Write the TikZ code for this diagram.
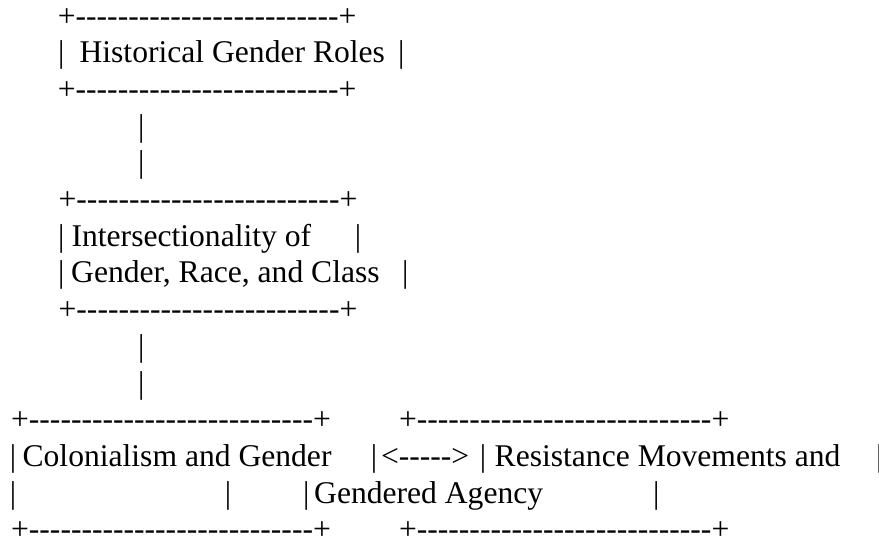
\documentclass[tikz,border=0pt]{standalone}
\usepackage{fontspec}
\newfontfamily\asciifont{Liberation Serif}[Ligatures=TeXOff]
\usepackage{tikz}

% a run of hyphens, and a box edge made from it
\newcommand\dashrun[1]{\foreach \k in {1,...,#1}{-}}
\newcommand\boxrow[1]{+\dashrun{#1}+}

\begin{document}
\begin{tikzpicture}[x=1pt,y=-1pt,
	txt/.style={anchor=base west,inner sep=0pt,font=\asciifont\fontsize{31.6}{36.7}\selectfont},
	rowtxt/.style={anchor=base,inner sep=0pt,font=\asciifont\fontsize{31.6}{36.7}\selectfont}]
	\fill[white] (0,0) rectangle (879,542);
	\useasboundingbox (0,0) rectangle (879,542);
	% top box
	\node[rowtxt] (rtop) at (207.2, 26.0)  {\boxrow{25}};
	\node[txt]    (rl)   at (58.0, 62.7)   {|};
	\node[txt]    (roles) at (79.4, 62.7)  {Historical Gender Roles};
	\node[txt]    (rr)   at (397.9, 62.7)  {|};
	\node[rowtxt] (rbot) at (207.2, 99.4)  {\boxrow{25}};
	\node[txt]    (la)   at (138.0, 136.1) {|};
	\node[txt]    (lb)   at (138.0, 172.8) {|};
	% middle box
	\node[rowtxt] (itop) at (208.0, 209.5) {\boxrow{25}};
	\node[txt]    (il1)  at (58.0, 246.2)  {|};
	\node[txt]    (inter) at (71.4, 246.2) {Intersectionality of};
	\node[txt]    (ir1)  at (354.6, 246.2) {|};
	\node[txt]    (il2)  at (58.0, 282.9)  {|};
	\node[txt]    (grc)  at (71.0, 282.9)  {Gender, Race, and Class};
	\node[txt]    (ir2)  at (402.0, 282.9) {|};
	\node[rowtxt] (ibot) at (208.0, 319.6) {\boxrow{25}};
	\node[txt]    (lc)   at (138.0, 356.3) {|};
	\node[txt]    (ld)   at (138.0, 393.0) {|};
	% bottom boxes
	\node[rowtxt] (ctop) at (171.0, 429.7) {\boxrow{27}};
	\node[rowtxt] (mtop) at (564.2, 429.7) {\boxrow{28}};
	\node[txt]    (cl1)  at (9.6, 466.4)   {|};
	\node[txt]    (colo) at (22.4, 466.4)  {Colonialism and Gender};
	\node[txt]    (cr1)  at (370.6, 466.4) {|};
	\node[txt]    (arr)  at (380.8, 466.4) {<----->};
	\node[txt]    (ml1)  at (479.6, 466.4) {|};
	\node[txt]    (resi) at (494.5, 466.4) {Resistance Movements and};
	\node[txt]    (mr1)  at (876.0, 466.4) {|};
	\node[txt]    (cl2)  at (9.6, 503.1)   {|};
	\node[txt]    (cr2)  at (224.6, 503.1) {|};
	\node[txt]    (ml2)  at (302.9, 503.1) {|};
	\node[txt]    (agen) at (314.0, 503.1) {Gendered Agency};
	\node[txt]    (mr2)  at (652.9, 503.1) {|};
	\node[rowtxt] (cbot) at (171.0, 539.8) {\boxrow{27}};
	\node[rowtxt] (mbot) at (564.2, 539.8) {\boxrow{28}};
\end{tikzpicture}
\end{document}
